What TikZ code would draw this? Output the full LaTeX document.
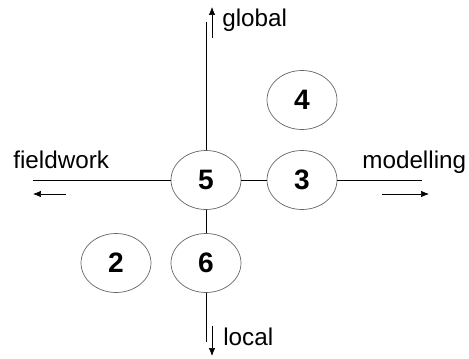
\documentclass[tikz,border=0pt]{standalone}
\usepackage{fontspec}
\setmainfont{Liberation Sans}
\usetikzlibrary{shapes.geometric,arrows.meta}

\begin{document}
\begin{tikzpicture}[x = 0.02cm, y = -0.02cm,
    zone/.style = {ellipse, draw = gray!80!black, thin, minimum width = 1.4cm,
      minimum height = 1.18cm, inner sep = 0pt, font = \fontsize{16}{18}\selectfont\bfseries},
    axis/.style = {draw = black, thin},
    sense/.style = {thin, -{Latex[length = 0.16cm, width = 0.13cm]}},
    word/.style = {font = \fontsize{13.8}{15}\selectfont, inner sep = 0pt}]
  \useasboundingbox (0,0) rectangle (469,358);

  % the zones
  \node[zone] (z5) at (206,180) {5};
  \node[zone] (z3) at (302,180) {3};
  \node[zone] (z4) at (302,100) {4};
  \node[zone] (z2) at (116,263) {2};
  \node[zone] (z6) at (206,263) {6};

  % ends of the axes
  \coordinate (west) at (33,180);
  \coordinate (east) at (422,180);
  \coordinate (north) at (206,22);
  \coordinate (south) at (206,342);

  \draw[axis] (west) -- (z5) -- (z3) -- (east);
  \draw[axis] (north) -- (z5) -- (z6) -- (south);

  % directions
  \coordinate (fw0) at (66,194);   \coordinate (fw1) at (33,194);
  \coordinate (md0) at (382,194);  \coordinate (md1) at (429,194);
  \coordinate (gl0) at (212,38);   \coordinate (gl1) at (212,7);
  \coordinate (lc0) at (212,326);  \coordinate (lc1) at (212,356);
  \draw[sense] (fw0) -- (fw1);
  \draw[sense] (md0) -- (md1);
  \draw[sense] (gl0) -- (gl1);
  \draw[sense] (lc0) -- (lc1);

  \node[word, anchor = base west] (fieldwork) at (13,168) {fieldwork};
  \node[word, anchor = base west] (modelling) at (362,168) {modelling};
  \node[word, anchor = base west] (global) at (222,27) {global};
  \node[word, anchor = base west] (local) at (223,345) {local};
\end{tikzpicture}
\end{document}
